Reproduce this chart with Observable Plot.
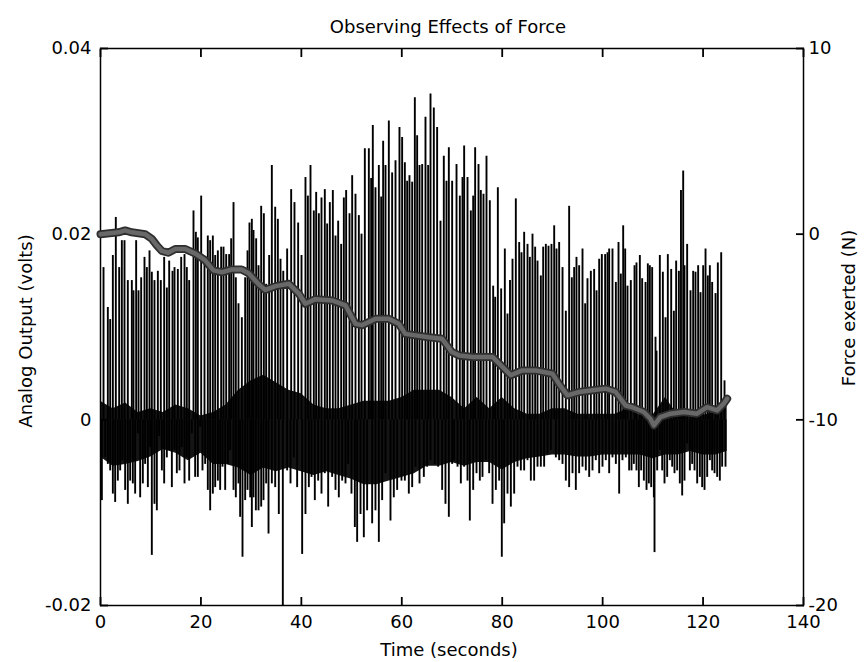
<!DOCTYPE html>
<html><head><meta charset="utf-8">
<script src="https://cdn.jsdelivr.net/npm/d3@7"></script>
<script src="https://cdn.jsdelivr.net/npm/@observablehq/plot@0.6"></script>
<style>
body{margin:0;background:#fff;}
#wrap{position:relative;width:867px;height:662px;font-family:"DejaVu Sans",sans-serif;}
#wrap svg{position:absolute;left:0;top:0;}
</style></head><body><div id="wrap"></div>
<script>
// ---------- data ----------
const xTicks = [0, 20, 40, 60, 80, 100, 120, 140];
const voltTicks = [-0.02, 0, 0.02, 0.04];
const forceTicks = [-20, -10, 0, 10];

// upward spikes of the analog output: [time s, volts]
const spikesUp = [
[0.6,0.0164],[1.46,0.0121],[1.93,0.0108],[2.46,0.0177],[3.05,0.0218],[3.72,0.0164],[4.25,0.0193],[4.78,0.0193],[5.44,0.0150],[6.24,0.0150],
[6.57,0.0139],[7.10,0.0193],[7.57,0.0139],[8.10,0.0153],[8.76,0.0175],[9.23,0.0164],[9.76,0.0182],[10.22,0.0159],[10.75,0.0150],[11.42,0.0160],
[12.01,0.0150],[12.68,0.0175],[13.21,0.0142],[13.68,0.0171],[14.34,0.0160],[14.74,0.0164],[15.40,0.0162],[16.07,0.0175],[16.73,0.0178],[17.19,0.0164],
[17.66,0.0150],[18.52,0.0225],[18.99,0.0202],[19.38,0.0196],[20.05,0.0241],[20.71,0.0169],[21.37,0.0198],[21.84,0.0193],[22.37,0.0198],[22.84,0.0177],
[23.37,0.0182],[24.03,0.0186],[24.50,0.0186],[25.03,0.0178],[25.62,0.0178],[26.02,0.0195],[26.49,0.0234],[26.95,0.0153],[27.48,0.0125],[28.15,0.0110],
[28.81,0.0153],[29.28,0.0182],[29.67,0.0212],[30.14,0.0216],[30.47,0.0204],[31.00,0.0195],[31.47,0.0166],[32.00,0.0230],[32.53,0.0222],[32.99,0.0146],
[33.59,0.0177],[34.12,0.0274],[34.79,0.0229],[35.32,0.0216],
[35.85,0.0173],[36.4,0.0160],[37.17,0.0184],[37.97,0.0248],[38.63,0.0234],[39.36,0.0212],[40.03,0.0177],[40.82,0.0261],[41.3,0.0241],[41.82,0.0274],
[42.48,0.0225],[42.95,0.0245],[43.48,0.0222],[44.01,0.0239],[44.67,0.0248],[45.14,0.0211],[45.67,0.0234],[46.27,0.0247],[46.80,0.0198],[47.33,0.0214],
[47.93,0.0189],[48.46,0.0239],[48.92,0.0247],[49.59,0.0222],[50.12,0.0263],[50.78,0.0243],[51.45,0.0220],[51.98,0.0200],[52.64,0.0292],[53.44,0.0292],
[53.9,0.0260],[54.23,0.0317],[54.76,0.0250],[55.43,0.0274],[55.9,0.0240],[56.29,0.0300],[56.76,0.0274],[57.42,0.0322],[58.08,0.0266],[58.75,0.0279],
[59.54,0.0315],[60.07,0.0304],[60.61,0.0277],[61.07,0.0257],[61.53,0.0263],[62.07,0.0256],[62.60,0.0347],[63.06,0.0306],[63.53,0.0274],[64.06,0.0275],
[64.72,0.0326],[65.25,0.0274],[65.72,0.0351],[66.38,0.0336],[67.04,0.0315],[67.71,0.0214],[68.37,0.0284],[68.9,0.0257],[69.37,0.0293],[70.03,0.0257],
[70.90,0.0275],[71.56,0.0241],[72.09,0.0261],[72.42,0.0295],[73.09,0.0261],[73.75,0.0225],[74.22,0.0241],[74.61,0.0293],[75.28,0.0275],[75.74,0.0247],
[76.27,0.0243],[76.87,0.0284],[77.53,0.0236],[78.20,0.0144],[78.60,0.0132],[79.13,0.0250],[79.79,0.0141],[80.52,0.0184],[81.05,0.0114],[81.55,0.0150],
[82.05,0.0173],[82.71,0.0238],[83.38,0.0191],[83.84,0.0180],[84.37,0.0202],[85.04,0.0189],[85.5,0.0175],[86.03,0.0200],[86.56,0.0186],[87.03,0.0171],
[87.69,0.0155],[88.16,0.0186],[88.69,0.0189],[89.22,0.0187],[89.81,0.0189],[90.35,0.0209],[90.81,0.0184],[91.34,0.0191],[92.01,0.0164],[92.67,0.0117],
[93.33,0.0230],[93.86,0.0153],[94.33,0.0164],[94.79,0.0175],[95.32,0.0166],[95.99,0.0184],[96.52,0.0125],[96.98,0.0152],[97.65,0.0160],[98.31,0.0162],
[98.78,0.0139],[99.31,0.0173],[99.84,0.0178],[100.50,0.0178],[100.97,0.0180],[101.30,0.0184],[101.96,0.0184],[102.63,0.0148],[103.16,0.0191],[103.62,0.0157],
[104.09,0.0209],[104.49,0.0184],[104.95,0.0144],[105.61,0.0150],
[106.35,0.0166],[106.74,0.0169],[107.41,0.0177],[107.87,0.0152],[108.54,0.0148],[109.00,0.0168],[109.40,0.0166],[109.86,0.0164],[110.53,0.0089],[110.73,0.0074],
[111.39,0.0177],[111.99,0.0159],[112.52,0.0110],[112.98,0.0178],[113.65,0.0162],[114.18,0.0117],[114.64,0.0171],[115.18,0.0160],[115.6,0.0247],[116.04,0.0268],
[116.30,0.0166],[116.83,0.0189],[117.50,0.0139],[118.03,0.0160],[118.49,0.0159],[119.02,0.0166],[119.49,0.0137],[120.02,0.0166],[120.49,0.0184],[120.95,0.0155],
[121.35,0.0166],[121.81,0.0148],[122.48,0.0136],[122.94,0.0169],[123.61,0.0180],[124.27,0.0042]
];

// downward dips of the analog output: [time s, volts]
const spikesDown = [
[0.27,-0.0087],[0.93,-0.0041],[1.46,-0.0048],[1.93,-0.0055],[2.46,-0.0080],[2.92,-0.0089],[3.45,-0.0066],[3.92,-0.0055],[4.38,-0.0044],[4.91,-0.0076],
[5.44,-0.0091],[5.91,-0.0066],[6.44,-0.0069],[6.90,-0.0080],[7.43,-0.0015],[7.90,-0.0084],[8.43,-0.0069],[8.89,-0.0048],[9.43,-0.0073],[9.89,-0.0030],
[10.22,-0.0146],[10.75,-0.0091],[11.22,-0.0098],[11.68,-0.0018],[12.22,-0.0055],[12.68,-0.0069],[13.21,-0.0041],[13.68,-0.0033],[14.21,-0.0073],[14.74,-0.0033],
[15.20,-0.0058],[15.73,-0.0055],[16.20,-0.0030],[16.73,-0.0069],[17.19,-0.0041],[17.66,-0.0066],[18.19,-0.0015],[18.85,-0.0062],[19.38,-0.0062],[19.85,-0.0008],
[20.31,-0.0055],[20.84,-0.0048],[21.37,-0.0076],[21.84,-0.0098],[22.37,-0.0080],[22.84,-0.0073],[23.37,-0.0066],[23.83,-0.0076],[24.30,-0.0051],[24.83,-0.0076],
[25.36,-0.0048],[25.82,-0.0033],[26.49,-0.0076],[26.95,-0.0084],[27.48,-0.0069],[27.81,-0.0105],[28.28,-0.0148],[28.81,-0.0087],[29.28,-0.0076],[29.81,-0.0084],
[30.14,-0.0116],[30.47,-0.0084],[30.94,-0.0098],[31.47,-0.0098],[32.00,-0.0094],[32.46,-0.0087],[32.99,-0.0069],[33.46,-0.0123],[34.12,-0.0069],[34.79,-0.0073],
[35.51,-0.0102],[36.31,-0.0200],[37.17,-0.0055],[37.84,-0.0069],[38.50,-0.0041],[39.16,-0.0073],[40.16,-0.0145],[40.82,-0.0102],[41.49,-0.0073],[42.02,-0.0062],
[42.68,-0.0087],[43.35,-0.0066],[44.01,-0.0080],[44.67,-0.0058],[45.34,-0.0094],[46.13,-0.0062],[46.80,-0.0076],[47.46,-0.0084],[48.13,-0.0066],[48.79,-0.0069],
[49.32,-0.0048],[49.98,-0.0080],[50.65,-0.0116],[51.11,-0.0132],[51.78,-0.0102],[52.44,-0.0127],[53.10,-0.0098],[54.10,-0.0112],[54.76,-0.0098],[55.43,-0.0132],
[56.09,-0.0087],[56.76,-0.0058],[57.75,-0.0109],[58.41,-0.0084],[59.08,-0.0076],[59.94,-0.0066],[60.61,-0.0066],[61.40,-0.0080],[62.07,-0.0073],[62.73,-0.0051],
[63.53,-0.0069],[64.39,-0.0062],[65.05,-0.0051],[65.72,-0.0044],[66.58,-0.0048],[67.24,-0.0051],[68.04,-0.0076],[68.70,-0.0091],[69.37,-0.0105],[70.03,-0.0048],
[70.43,-0.0044],[71.10,-0.0051],[71.76,-0.0069],[72.42,-0.0051],[73.09,-0.0066],[73.55,-0.0109],[74.22,-0.0076],[74.88,-0.0058],[75.54,-0.0066],[76.07,-0.0062],
[76.74,-0.0044],[77.40,-0.0058],[78.07,-0.0091],[78.73,-0.0076],[79.39,-0.0066],[79.92,-0.0148],[80.39,-0.0112],[81.05,-0.0080],[81.72,-0.0094],[82.38,-0.0080],
[83.04,-0.0051],[83.71,-0.0055],[84.37,-0.0055],[85.04,-0.0044],[85.70,-0.0066],[86.36,-0.0066],[87.03,-0.0051],[87.69,-0.0051],[88.35,-0.0051],[89.02,-0.0037],
[89.68,-0.0033],[90.68,-0.0041],[91.34,-0.0044],[92.01,-0.0048],[92.67,-0.0066],[93.33,-0.0073],[94.00,-0.0058],[94.66,-0.0076],[95.32,-0.0058],[95.99,-0.0051],
[96.65,-0.0055],[97.32,-0.0062],[97.98,-0.0055],[98.64,-0.0044],[99.31,-0.0058],[99.97,-0.0051],[100.63,-0.0044],[101.30,-0.0058],[101.96,-0.0041],[102.63,-0.0048],
[103.29,-0.0080],[103.95,-0.0044],[104.62,-0.0041],[105.28,-0.0055],
[105.75,-0.0055],[106.21,-0.0048],[106.74,-0.0055],[107.21,-0.0073],[107.67,-0.0055],[108.21,-0.0066],[108.74,-0.0076],[109.20,-0.0069],[109.67,-0.0073],[110.20,-0.0084],
[110.33,-0.0143],[110.86,-0.0055],[111.39,-0.0033],[111.86,-0.0055],[112.32,-0.0069],[112.85,-0.0062],[113.38,-0.0044],[113.85,-0.0051],[114.31,-0.0058],[114.84,-0.0055],
[115.37,-0.0069],[115.84,-0.0082],[116.30,-0.0066],[116.83,-0.0026],[117.37,-0.0055],[117.83,-0.0048],[118.30,-0.0055],[118.83,-0.0069],[119.36,-0.0062],[119.82,-0.0073],
[120.29,-0.0076],[120.82,-0.0062],[121.35,-0.0044],[121.81,-0.0055],[122.28,-0.0058],[122.81,-0.0062],[123.34,-0.0066],[123.80,-0.0051],[124.47,-0.0051]
];

// dense noisy core of the analog output: [time s, lower volts, upper volts]
const noiseBand = [
[0,-0.0040,0.0020],[2.5,-0.0050,0.0012],[5,-0.0048,0.0018],[7.5,-0.0045,0.0008],[10,-0.0040,0.0012],[12.5,-0.0032,0.0008],
[15,-0.0036,0.0016],[17.5,-0.0044,0.0012],[20,-0.0036,0.0004],[22.5,-0.0048,0.0008],[25,-0.0048,0.0016],[27.5,-0.0052,0.0032],
[30,-0.0060,0.0042],[32.5,-0.0052,0.0048],[35,-0.0056,0.0040],[37.5,-0.0052,0.0032],[40,-0.0056,0.0028],[42.5,-0.0060,0.0016],
[45,-0.0056,0.0012],[47.5,-0.0060,0.0012],[50,-0.0064,0.0016],[52.5,-0.0070,0.0020],[55,-0.0070,0.0020],[57.5,-0.0066,0.0020],
[60,-0.0062,0.0024],[62.5,-0.0058,0.0032],[65,-0.0050,0.0032],[67.5,-0.0050,0.0032],[70,-0.0046,0.0024],[72.5,-0.0050,0.0012],
[75,-0.0046,0.0024],[77.5,-0.0046,0.0012],[80,-0.0054,0.0024],[82.5,-0.0046,0.0012],[85,-0.0042,0.0006],[87.5,-0.0040,0.0006],
[90,-0.0038,0.0012],[92.5,-0.0038,0.0012],[95,-0.0040,0.0006],[97.5,-0.0040,0.0006],[100,-0.0038,0.0006],[102.5,-0.0038,0.0006],
[105,-0.0038,0.0012],[107.5,-0.0038,0.0005],[110,-0.0042,0.0005],[112.5,-0.0038,0.0024],[115,-0.0038,0.0005],[117.5,-0.0034,0.0005],
[120,-0.0038,0.0005],[122.5,-0.0038,0.0008],[124.8,-0.0034,0.0024]
];

// force exerted (right axis): [time s, newtons]
const force = [
[0,0],[3.6,0.1],[4.9,0.2],[6.2,0.1],[8.9,0],[10.2,-0.25],[11.2,-0.6],[12.2,-0.9],[13.5,-1.0],[14.9,-0.8],[16.9,-0.8],[18.9,-1.05],
[20.8,-1.4],[22.5,-1.95],[24.2,-2.05],[26.2,-1.9],[28.1,-1.9],[29.5,-2.1],[31.5,-2.7],[32.8,-3.0],[34.9,-2.8],[37.5,-2.67],[39.5,-3.2],
[40.8,-3.75],[42.8,-3.5],[46.1,-3.57],[48.8,-3.84],[50.8,-4.83],[52.1,-4.9],[54.8,-4.56],[57.4,-4.56],[59.4,-4.83],[60.7,-5.37],[62.7,-5.45],
[65.4,-5.55],[68.0,-5.63],[70.0,-6.35],[71.4,-6.53],[74.1,-6.62],[78.1,-6.62],[80.1,-7.16],[81.7,-7.6],[84.0,-7.34],[86.7,-7.34],[90.0,-7.52],
[91.3,-8.06],[93.0,-8.68],[95.3,-8.5],[98.0,-8.41],[100.6,-8.32],[102.6,-8.5],[104.6,-9.23],[105.9,-9.32],[108.2,-9.58],[109.5,-9.94],[110.2,-10.3],
[111.5,-9.85],[113.5,-9.67],[116.2,-9.58],[118.8,-9.67],[120.8,-9.32],[122.8,-9.49],[124.1,-9.13],[124.8,-8.86]
];

// ---------- drawing ----------
const W = 867, H = 662;
const M = {marginTop: 48, marginRight: 64, marginBottom: 57, marginLeft: 100};
const FONT = "DejaVu Sans";
const FS = 18;
const TL = 8; // inward tick length (px)
const fmt = d => String(d);
const blank = () => "";

const p1 = Plot.plot({
  width: W, height: H, ...M,
  x: {domain: [0, 140]},
  y: {domain: [-0.02, 0.04]},
  style: {fontFamily: FONT, fontSize: FS + "px", color: "black", background: "white", overflow: "visible"},
  marks: [
    Plot.areaY(noiseBand, {x: d => d[0], y1: d => d[1], y2: d => d[2], fill: "#151515"}),
    Plot.ruleX(spikesDown, {x: d => d[0], y1: 0, y2: d => d[1], stroke: "#000", strokeWidth: 1.9}),
    Plot.ruleX(spikesUp, {x: d => d[0], y1: 0, y2: d => d[1], stroke: "#000", strokeWidth: 1.9}),
    Plot.frame({stroke: "black", strokeWidth: 1.5}),
    // inward tick marks (axis ticks shifted inside the frame)
    Plot.axisX({anchor: "bottom", ticks: xTicks, tickSize: TL, dy: -TL, tickFormat: blank, label: null, stroke: "black", strokeWidth: 1.8}),
    Plot.axisX({anchor: "top", ticks: xTicks, tickSize: TL, dy: TL, tickFormat: blank, label: null, stroke: "black", strokeWidth: 1.8}),
    Plot.axisY({anchor: "left", ticks: voltTicks, tickSize: TL, dx: TL, tickFormat: blank, label: null, stroke: "black", strokeWidth: 1.8}),
    // tick labels
    Plot.axisX({anchor: "bottom", ticks: xTicks, tickSize: 0, tickPadding: 10, tickFormat: fmt, label: null, fontSize: FS, fontFamily: FONT}),
    Plot.axisY({anchor: "left", ticks: voltTicks, tickSize: 0, tickPadding: 9, tickFormat: fmt, label: null, fontSize: FS, fontFamily: FONT}),
    Plot.text(["Observing Effects of Force"], {text: d => d, frameAnchor: "top", dy: -28, dx: -4, fontSize: FS, fontFamily: FONT, fill: "black"}),
    Plot.text(["Time (seconds)"], {text: d => d, frameAnchor: "bottom", dy: 50, dx: -3, fontSize: FS, fontFamily: FONT, fill: "black"}),
    Plot.text(["Analog Output (volts)"], {text: d => d, frameAnchor: "left", textAnchor: "middle", rotate: -90, dx: -74, dy: 4, fontSize: FS, fontFamily: FONT, fill: "black"})
  ]
});

const p2 = Plot.plot({
  width: W, height: H, ...M,
  x: {domain: [0, 140], axis: null},
  y: {domain: [-20, 10]},
  style: {fontFamily: FONT, fontSize: FS + "px", color: "black", background: "transparent", overflow: "visible"},
  marks: [
    Plot.line(force, {x: d => d[0], y: d => d[1], stroke: "#2e2e2e", strokeWidth: 8, strokeLinejoin: "round", strokeLinecap: "round"}),
    Plot.line(force, {x: d => d[0], y: d => d[1], stroke: "#686868", strokeWidth: 4.5, strokeLinejoin: "round", strokeLinecap: "round"}),
    Plot.axisY({anchor: "right", ticks: forceTicks, tickSize: TL, dx: -TL, tickFormat: blank, label: null, stroke: "black", strokeWidth: 1.8}),
    Plot.axisY({anchor: "right", ticks: forceTicks, tickSize: 0, tickPadding: 5, tickFormat: fmt, label: null, fontSize: FS, fontFamily: FONT}),
    Plot.text(["Force exerted (N)"], {text: d => d, frameAnchor: "right", textAnchor: "middle", rotate: -90, dx: 46, dy: -19, fontSize: FS, fontFamily: FONT, fill: "black"})
  ]
});

const wrap = document.getElementById("wrap");
wrap.appendChild(p1);
wrap.appendChild(p2);
</script>
</body></html>
